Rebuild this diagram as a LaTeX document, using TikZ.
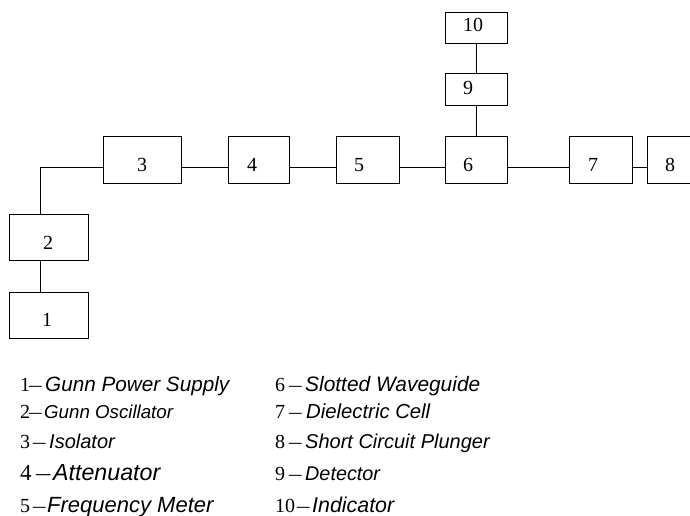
\documentclass[tikz,border=0pt]{standalone}
\usepackage{fontspec}
\usepackage{graphicx}
\setmainfont{Liberation Serif}
\newfontfamily\lsans{Liberation Sans}
\newcommand\lgrow[5]{\rlap{#1}\hspace{#2pt}\rlap{\scalebox{1.25}[1]{–}}\hspace{#3pt}{\lsans\itshape\fontsize{#4}{#4}\selectfont #5}}
\begin{document}
\begin{tikzpicture}[x=1pt,y=-1pt,
  blk/.style={draw,line width=0.9pt,minimum width=#1,inner sep=0pt},
  num/.style={font=\fontsize{20}{24}\selectfont,inner sep=0pt},
  conn/.style={line width=0.9pt},
  leg/.style={anchor=base west,inner sep=0pt,font=\fontsize{20}{24}\selectfont}]
\useasboundingbox (0,0) rectangle (690,516);
% boxes
\node[blk=79pt,minimum height=46pt] (b1) at (48.5,315) {};
\node[blk=79pt,minimum height=46pt] (b2) at (48.5,237) {};
\node[blk=78pt,minimum height=47pt] (b3) at (142,159.5) {};
\node[blk=61pt,minimum height=47pt] (b4) at (258.5,159.5) {};
\node[blk=63pt,minimum height=47pt] (b5) at (367.5,159.5) {};
\node[blk=62pt,minimum height=47pt] (b6) at (476,159.5) {};
\node[blk=63pt,minimum height=47pt] (b7) at (600.5,159.5) {};
\node[blk=48pt,minimum height=47pt] (b8) at (671,159.5) {};
\node[blk=62pt,minimum height=32pt] (b9) at (476,89) {};
\node[blk=62pt,minimum height=31pt] (b10) at (476,27.5) {};
% numbers in boxes
\node[num] (t1) at (47,320) {1};
\node[num] (t2) at (48,243) {2};
\node[num] (t3) at (142,165) {3};
\node[num] (t4) at (252,165) {4};
\node[num] (t5) at (359,165) {5};
\node[num] (t6) at (468,165) {6};
\node[num] (t7) at (593,165) {7};
\node[num] (t8) at (670,165) {8};
\node[num] (t9) at (468,87.5) {9};
\node[num] (t10) at (473,24.5) {10};
% connectors
\coordinate (hl) at (0,167);
\coordinate (vl) at (40,0);
\draw[conn] (b1.north -| vl) -- (b2.south -| vl);
\draw[conn] (b2.north -| vl) |- (b3.west |- hl);
\draw[conn] (b3.east |- hl) -- (b4.west |- hl);
\draw[conn] (b4.east |- hl) -- (b5.west |- hl);
\draw[conn] (b5.east |- hl) -- (b6.west |- hl);
\draw[conn] (b6.east |- hl) -- (b7.west |- hl);
\draw[conn] (b7.east |- hl) -- (b8.west |- hl);
\draw[conn] (b6.north) -- (b9.south);
\draw[conn] (b9.north) -- (b10.south);
% legend
\node[leg] (l1) at (20,391) {\lgrow{1}{9}{16}{20.7}{Gunn Power Supply}};
\node[leg] (l2) at (20,418) {\lgrow{2}{9}{15}{18.7}{Gunn Oscillator}};
\node[leg] (l3) at (20,448) {\lgrow{3}{13}{16}{20}{Isolator}};
\node[leg,font=\fontsize{23}{27}\selectfont] (l4) at (20,480) {\lgrow{4}{16}{17}{23.2}{Attenuator}};
\node[leg] (l5) at (20,512) {\lgrow{5}{13}{14}{22}{Frequency Meter}};
\node[leg] (l6) at (275,391) {\lgrow{6}{14}{16}{20.9}{Slotted Waveguide}};
\node[leg] (l7) at (275,418) {\lgrow{7}{14}{17}{20.3}{Dielectric Cell}};
\node[leg] (l8) at (275,448) {\lgrow{8}{14}{16}{20}{Short Circuit Plunger}};
\node[leg] (l9) at (275,480) {\lgrow{9}{14}{16}{19.8}{Detector}};
\node[leg] (l10) at (275,512) {\lgrow{10}{22}{15}{21.4}{Indicator}};
\end{tikzpicture}
\end{document}
